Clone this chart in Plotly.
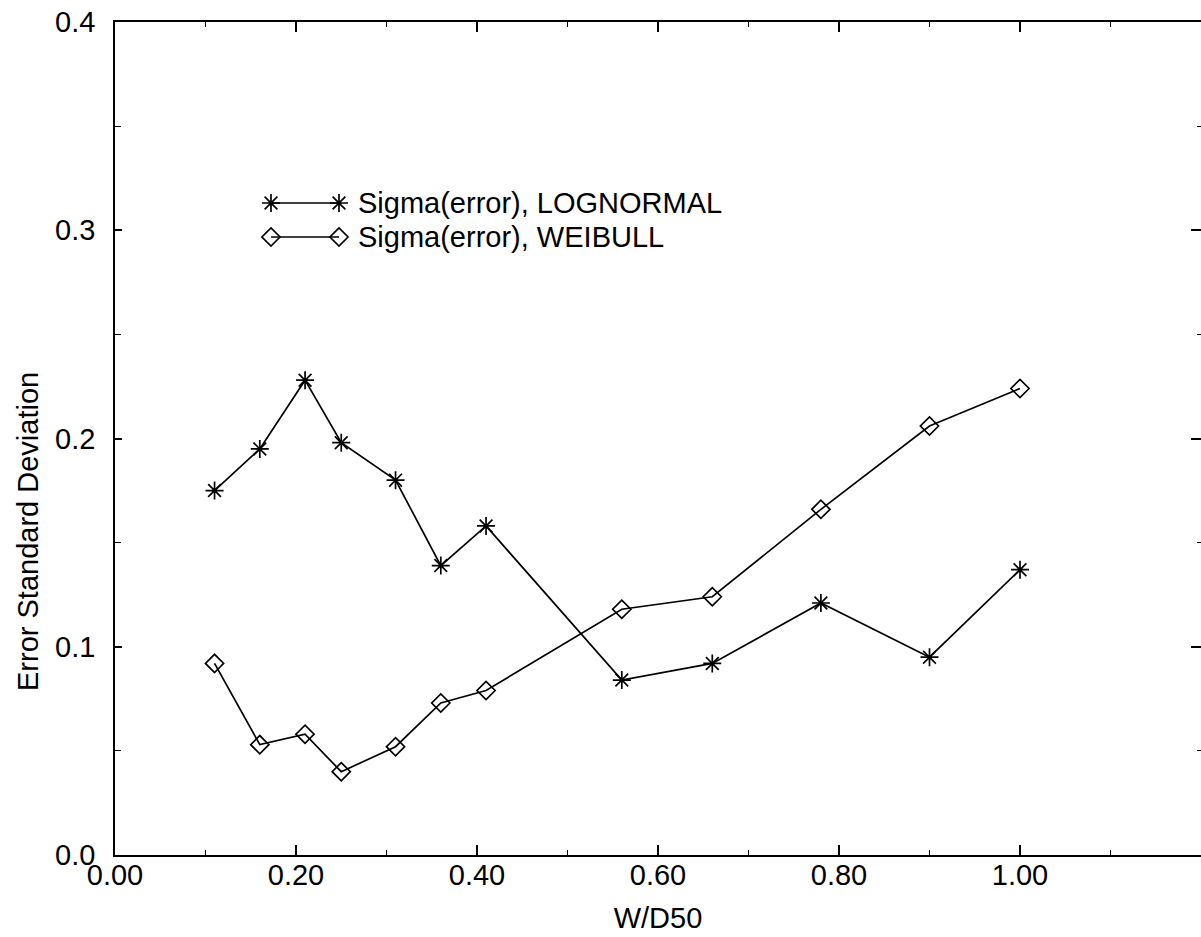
import plotly.graph_objects as go

# ---- data ----
w_d50 = [0.11, 0.16, 0.21, 0.25, 0.31, 0.36, 0.41, 0.56, 0.66, 0.78, 0.90, 1.00]
sigma_lognormal = [0.175, 0.195, 0.228, 0.198, 0.180, 0.139, 0.158, 0.084, 0.092, 0.121, 0.095, 0.137]
sigma_weibull = [0.092, 0.053, 0.058, 0.040, 0.052, 0.073, 0.079, 0.118, 0.124, 0.166, 0.206, 0.224]

series_names = ["Sigma(error), LOGNORMAL", "Sigma(error), WEIBULL"]
x_tick_vals = [0.0, 0.2, 0.4, 0.6, 0.8, 1.0]
x_tick_text = ["0.00", "0.20", "0.40", "0.60", "0.80", "1.00"]
y_tick_vals = [0.0, 0.1, 0.2, 0.3, 0.4]
y_tick_text = ["0.0", "0.1", "0.2", "0.3", "0.4"]
x_title = "W/D50"
y_title = "Error Standard Deviation"

# ---- layout geometry (pixels) ----
W, H = 1201, 937
L, R, T, B = 115, 0, 22, 82
FONT = "Liberation Sans, Arial, Helvetica, sans-serif"
FS = 29
LW = 1.7

fig = go.Figure()

star = dict(symbol="asterisk-open", size=15, color="black", line=dict(color="black", width=LW))
diam = dict(symbol="diamond-open", size=14, color="black", line=dict(color="black", width=LW))

fig.add_trace(go.Scatter(x=w_d50, y=sigma_lognormal, mode="lines+markers",
                         line=dict(color="black", width=LW), marker=star,
                         name=series_names[0], showlegend=False))
fig.add_trace(go.Scatter(x=w_d50, y=sigma_weibull, mode="lines+markers",
                         line=dict(color="black", width=LW), marker=diam,
                         name=series_names[1], showlegend=False))

# ---- hand-drawn legend on a pixel-mapped overlay axis ----
leg_rows = [203, 237]
leg_x0, leg_x1, leg_tx = 271, 339, 356
for row, m, name in zip(leg_rows, [star, diam], series_names):
    fig.add_trace(go.Scatter(x=[leg_x0, leg_x1], y=[row, row], mode="lines+markers",
                             line=dict(color="black", width=LW), marker=m,
                             xaxis="x3", yaxis="y3", showlegend=False, hoverinfo="skip"))
    fig.add_annotation(x=leg_tx, y=row, xref="x3", yref="y3", text=name, showarrow=False,
                       xanchor="left", yanchor="middle", font=dict(family=FONT, size=FS, color="black"))

def paper_x(px):
    return (px - L) / (W - L - R)

def paper_y(py):
    return (H - B - py) / (H - T - B)

# y-axis title (placed where the reference has it, below the axis centre)
fig.add_annotation(x=paper_x(28), y=paper_y(532), xref="paper", yref="paper", text=y_title,
                   textangle=-90, showarrow=False, xanchor="center", yanchor="middle",
                   font=dict(family=FONT, size=FS, color="black"))

axis_common = dict(showgrid=False, zeroline=False, ticks="inside", tickcolor="black",
                   linecolor="black", tickfont=dict(family=FONT, size=FS, color="black"))

fig.update_layout(
    width=W, height=H,
    margin=dict(l=L, r=R, t=T, b=B, pad=0),
    paper_bgcolor="white", plot_bgcolor="white",
    font=dict(family=FONT, size=FS, color="black"),
    xaxis=dict(range=[0, 1.2], tickmode="array", tickvals=x_tick_vals, ticktext=x_tick_text,
               ticklen=10, tickwidth=1.5, showline=True, linewidth=1.6, mirror="ticks",
               ticklabelstandoff=-7,
               minor=dict(tickmode="linear", tick0=0, dtick=0.1, ticklen=5, tickwidth=1.2,
                          ticks="inside", tickcolor="black"),
               title=dict(text=x_title, font=dict(family=FONT, size=FS), standoff=18),
               **axis_common),
    yaxis=dict(range=[0, 0.4], tickmode="array", tickvals=y_tick_vals, ticktext=y_tick_text,
               ticklen=7, tickwidth=1.5, showline=True, linewidth=1.6, mirror=False,
               ticklabelstandoff=12,
               minor=dict(tickmode="linear", tick0=0, dtick=0.05, ticklen=6, tickwidth=1.2,
                          ticks="inside", tickcolor="black"),
               **axis_common),
    yaxis2=dict(range=[0, 0.4], overlaying="y", side="right", tickmode="array",
                tickvals=y_tick_vals, showticklabels=False, ticklen=10, tickwidth=1.6,
                showline=False,
                minor=dict(tickmode="linear", tick0=0, dtick=0.05, ticklen=4, tickwidth=1.3,
                           ticks="inside", tickcolor="black"),
                showgrid=False, zeroline=False, ticks="inside", tickcolor="black"),
    xaxis3=dict(range=[L, W - R], domain=[0, 1], visible=False, fixedrange=True,
                overlaying="x", anchor="y3"),
    yaxis3=dict(range=[H - B, T], domain=[0, 1], visible=False, fixedrange=True,
                overlaying="y", anchor="x3"),
)
# dummy trace so yaxis2 is drawn
fig.add_trace(go.Scatter(x=[None], y=[None], yaxis="y2", showlegend=False, hoverinfo="skip"))

fig.write_html("out.html")
